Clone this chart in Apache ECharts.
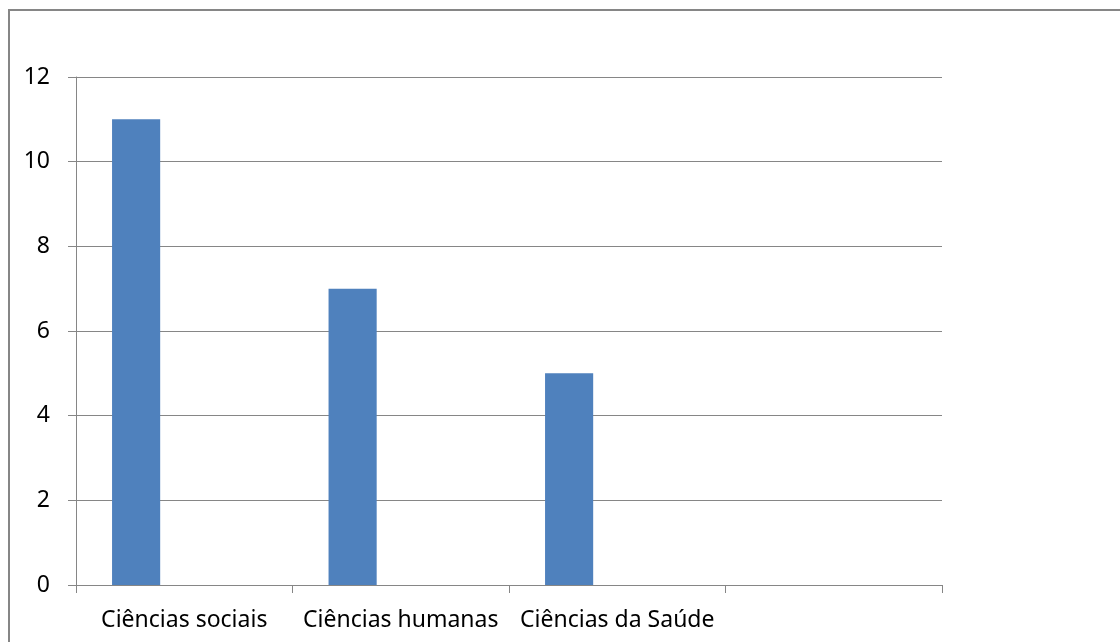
<!DOCTYPE html>
<html lang="pt">
<head>
    <meta charset="UTF-8">
    <title>Áreas</title>
    <script src="https://cdn.jsdelivr.net/npm/echarts@6/dist/echarts.min.js"></script>
    <style>
        html, body { margin: 0; padding: 0; background: #fff; }
        #main { width: 1120px; height: 642px; }
    </style>
</head>
<body>
    <div id="main"></div>
    <script>
        // categories (the 4th slot is empty in the original)
        var areas = ['Ciências sociais', 'Ciências humanas', 'Ciências da Saúde', ''];
        var serie1 = [11, 7, 5, null];
        var serie2 = [null, null, null, null];
        var serie3 = [null, null, null, null];

        var cinza = '#868686';
        var fonte = 'Noto Sans';

        var myChart = echarts.init(document.getElementById('main'));

        var option = {
            animation: false,
            graphic: [{
                type: 'rect',
                shape: { x: 9, y: 10, width: 1300, height: 800 },
                style: { fill: 'none', stroke: cinza, lineWidth: 2 },
                silent: true
            }],
            grid: {
                left: 76,
                right: 178,
                top: 77,
                bottom: 57
            },
            xAxis: {
                type: 'category',
                data: areas,
                axisLine: { lineStyle: { color: cinza, width: 1 } },
                axisTick: { show: true, length: 8, interval: 0, lineStyle: { color: cinza } },
                axisLabel: { color: '#000', fontFamily: fonte, fontSize: 23, margin: 24, interval: 0 }
            },
            yAxis: {
                type: 'value',
                min: 0,
                max: 12,
                interval: 2,
                axisLine: { show: true, lineStyle: { color: cinza, width: 1 } },
                axisTick: { show: true, length: 8, lineStyle: { color: cinza } },
                splitLine: { lineStyle: { color: cinza, width: 1 } },
                axisLabel: { color: '#000', fontFamily: fonte, fontSize: 23, margin: 26 }
            },
            series: [{
                name: 'Série 1',
                type: 'bar',
                data: serie1,
                barGap: '0%',
                barCategoryGap: '33.3%',
                itemStyle: { color: '#4F81BD' }
            },
            {
                name: 'Série 2',
                type: 'bar',
                data: serie2,
                itemStyle: { color: '#C0504D' }
            },
            {
                name: 'Série 3',
                type: 'bar',
                data: serie3,
                itemStyle: { color: '#9BBB59' }
            }]
        };

        myChart.setOption(option);
    </script>
</body>
</html>
